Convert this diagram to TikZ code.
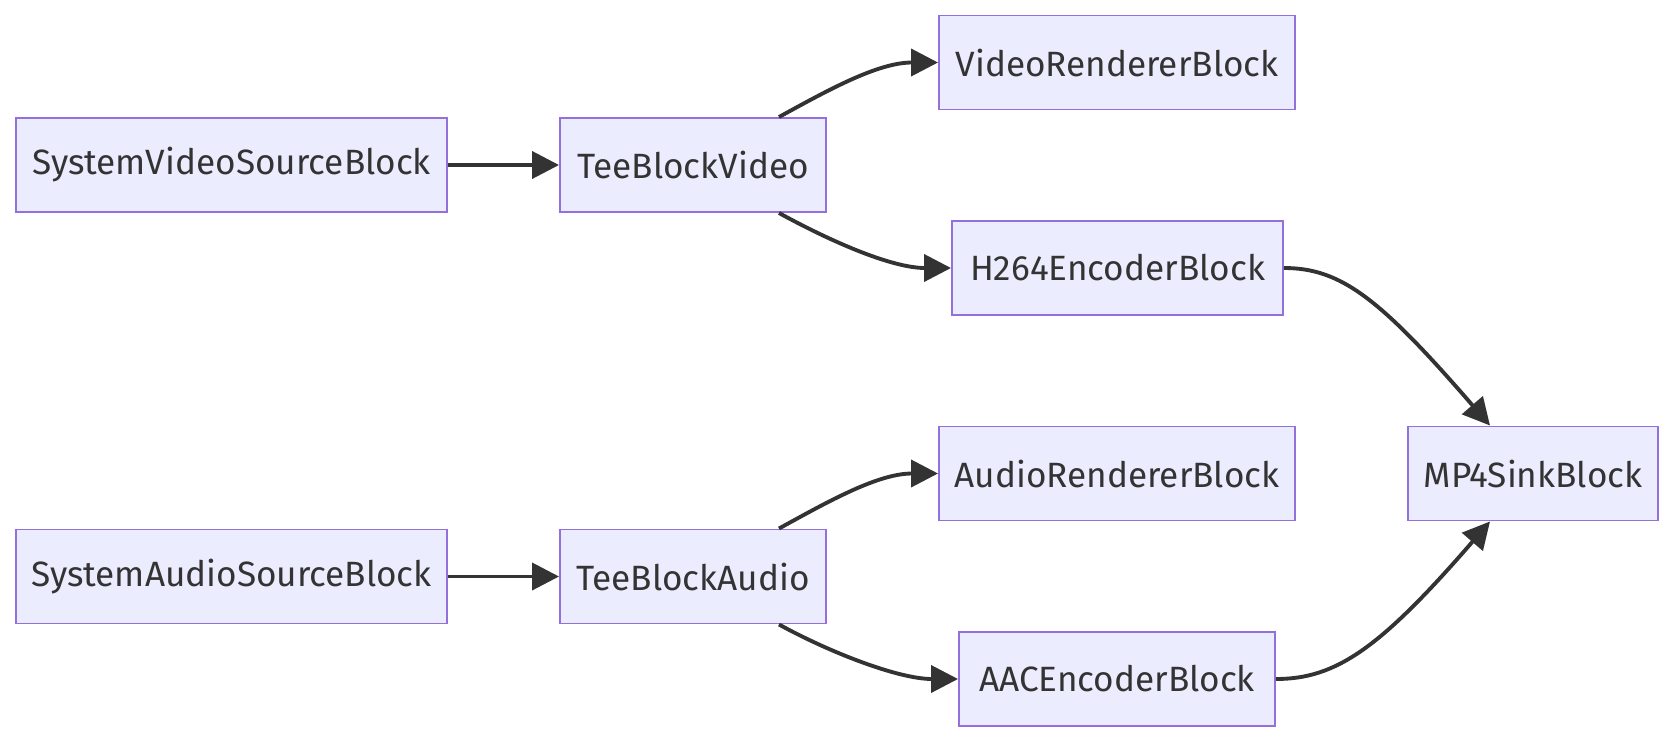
\documentclass[tikz,border=0pt]{standalone}
\usepackage{fontspec}
\setmainfont{Fira Sans}
\usetikzlibrary{arrows.meta}
\definecolor{blockfill}{HTML}{ECECFF}
\definecolor{blockline}{HTML}{9370DB}
\definecolor{edgecol}{HTML}{333333}
\begin{document}
\begin{tikzpicture}[
  block/.style={draw=blockline, fill=blockfill, line width=1.1pt,
                minimum height=1.88cm, inner sep=0pt, text=edgecol,
                font=\fontsize{20}{24}\selectfont},
  flow/.style={draw=edgecol, line width=2.2pt,
               -{Triangle[length=0.54cm, width=0.54cm]}},
]
  \useasboundingbox (0,0) rectangle (33.5,-14.86);

  % video branch
  \node[block, minimum width=8.62cm] (svs) at (4.63, -3.30) {SystemVideoSourceBlock};
  \node[block, minimum width=5.32cm] (tv) at (13.86, -3.30) {TeeBlockVideo};
  \node[block, minimum width=7.12cm] (vr) at (22.34, -1.25) {VideoRendererBlock};
  \node[block, minimum width=6.62cm] (h264) at (22.35, -5.36) {H264EncoderBlock};

  % sink
  \node[block, minimum width=5.00cm] (mp4) at (30.66, -9.47) {MP4SinkBlock};

  % audio branch
  \node[block, minimum width=7.12cm] (ar) at (22.34, -9.47) {AudioRendererBlock};
  \node[block, minimum width=8.62cm] (sas) at (4.63, -11.53) {SystemAudioSourceBlock};
  \node[block, minimum width=5.32cm] (ta) at (13.86, -11.53) {TeeBlockAudio};
  \node[block, minimum width=6.32cm] (aac) at (22.34, -13.58) {AACEncoderBlock};

  % connectors
  \draw[flow] (svs.east) -- (tv.west);
  \draw[flow] ([xshift=-0.96cm]tv.north east) .. controls +(1.0,0.55) and +(-1.2,0) .. (vr.west);
  \draw[flow] ([xshift=-0.96cm]tv.south east) .. controls +(1.0,-0.55) and +(-1.2,0) .. (h264.west);
  \draw[flow] (h264.east) .. controls +(1.14,0) and +(-2.2,2.54) .. ([xshift=-0.86cm]mp4.north);

  \draw[flow] (sas.east) -- (ta.west);
  \draw[flow] ([xshift=-0.96cm]ta.north east) .. controls +(1.0,0.55) and +(-1.2,0) .. (ar.west);
  \draw[flow] ([xshift=-0.96cm]ta.south east) .. controls +(1.0,-0.55) and +(-1.2,0) .. (aac.west);
  \draw[flow] (aac.east) .. controls +(1.2,0) and +(-2.2,-2.54) .. ([xshift=-0.86cm]mp4.south);

\end{tikzpicture}
\end{document}
